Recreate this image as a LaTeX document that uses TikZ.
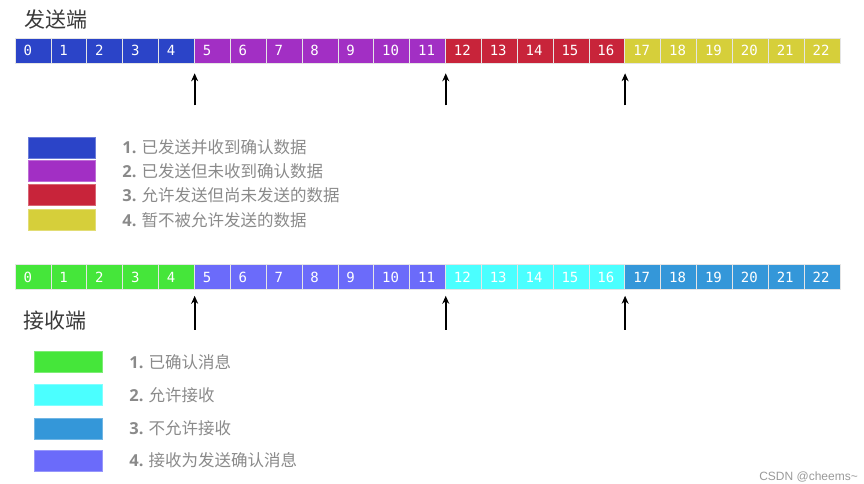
\documentclass[tikz,border=0pt]{standalone}
\usepackage{fontspec}
\setmainfont{Open Sans}
\newfontfamily\cjk{Noto Sans CJK SC}
\newfontfamily\cellfont{DejaVu Sans Mono}
\newfontfamily\markfont{Liberation Sans}
\usetikzlibrary{arrows.meta,positioning}
\definecolor{SendAck}{HTML}{2B44C8}
\definecolor{SendWait}{HTML}{A22FC4}
\definecolor{SendOk}{HTML}{C8243A}
\definecolor{SendNo}{HTML}{D6CF3A}
\definecolor{RecvAck}{HTML}{45E63A}
\definecolor{RecvOk}{HTML}{4BFFFF}
\definecolor{RecvNo}{HTML}{3497D9}
\definecolor{RecvWait}{HTML}{6B6BFA}
\definecolor{LegGray}{HTML}{8A8A8A}
\definecolor{TitleGray}{HTML}{3A3A3A}
\begin{document}
\begin{tikzpicture}[
  x=1pt,y=-1pt,
  node distance=27pt,
  cell/.style={draw=white!90!black,line width=0.6pt,minimum width=35.87pt,minimum height=25pt,inner xsep=8.5pt,inner ysep=0pt,text width=18.87pt,align=left,text=white,font=\cellfont\fontsize{14}{14}\selectfont},
  swatch/.style={draw=#1!70!white,fill=#1,line width=0.5pt,minimum width=67pt,minimum height=21pt,inner sep=0pt},
  legtext/.style={anchor=west,inner sep=0pt,text=LegGray,font=\cjk\fontsize{16.5}{17}\selectfont},
  title/.style={inner sep=0pt,text=TitleGray,font=\cjk\fontsize{21}{21}\selectfont},
  ptr/.style={-{Stealth[length=8pt,width=7pt]},line width=1.7pt,draw=black}
]
\useasboundingbox (0,0) rectangle (864,484);

% sender side
\node[title] (sendtitle) at (56,20) {发送端};
\foreach \a/\b/\c in {0/4/SendAck,5/11/SendWait,12/16/SendOk,17/22/SendNo}
  \foreach \i in {\a,...,\b}
    \node[cell,fill=\c] (s\i) at ({15+(\i+0.5)*35.87},50.5) {\i};
\foreach \i [count=\k] in {4,11,16} {
  \coordinate (sp\k) at ([yshift=-42pt]s\i.south east);
  \draw[ptr] (sp\k) -- ([yshift=-10pt]s\i.south east);
}

\node[swatch=SendAck] (k1) at (61.5,147.5) {};
\node[swatch=SendWait] (k2) at (61.5,171) {};
\node[swatch=SendOk] (k3) at (61.5,195) {};
\node[swatch=SendNo] (k4) at (61.5,220) {};
\node[legtext,right=of k1] (kt1) {{\fontspec{Open Sans}\bfseries 1.} 已发送并收到确认数据};
\node[legtext,right=of k2] (kt2) {{\fontspec{Open Sans}\bfseries 2.} 已发送但未收到确认数据};
\node[legtext,right=of k3] (kt3) {{\fontspec{Open Sans}\bfseries 3.} 允许发送但尚未发送的数据};
\node[legtext,right=of k4] (kt4) {{\fontspec{Open Sans}\bfseries 4.} 暂不被允许发送的数据};

% receiver side
\foreach \a/\b/\c in {0/4/RecvAck,5/11/RecvWait,12/16/RecvOk,17/22/RecvNo}
  \foreach \i in {\a,...,\b}
    \node[cell,fill=\c] (r\i) at ({15+(\i+0.5)*35.87},277) {\i};
\foreach \i [count=\k] in {4,11,16} {
  \coordinate (rp\k) at ([yshift=-40pt]r\i.south east);
  \draw[ptr] (rp\k) -- ([yshift=-6pt]r\i.south east);
}
\node[title] (recvtitle) at (55,321) {接收端};

\node[swatch=RecvAck,minimum width=68pt] (q1) at (68,362) {};
\node[swatch=RecvOk,minimum width=68pt] (q2) at (68,395) {};
\node[swatch=RecvNo,minimum width=68pt] (q3) at (68,428.5) {};
\node[swatch=RecvWait,minimum width=68pt] (q4) at (68,460.5) {};
\node[legtext,right=of q1] (qt1) {{\fontspec{Open Sans}\bfseries 1.} 已确认消息};
\node[legtext,right=of q2] (qt2) {{\fontspec{Open Sans}\bfseries 2.} 允许接收};
\node[legtext,right=of q3] (qt3) {{\fontspec{Open Sans}\bfseries 3.} 不允许接收};
\node[legtext,right=of q4] (qt4) {{\fontspec{Open Sans}\bfseries 4.} 接收为发送确认消息};

\node[anchor=east,inner sep=0pt,text=gray!80,font=\markfont\fontsize{12}{12}\selectfont] (mark) at (858,477) {CSDN @cheems\textasciitilde};
\end{tikzpicture}
\end{document}
